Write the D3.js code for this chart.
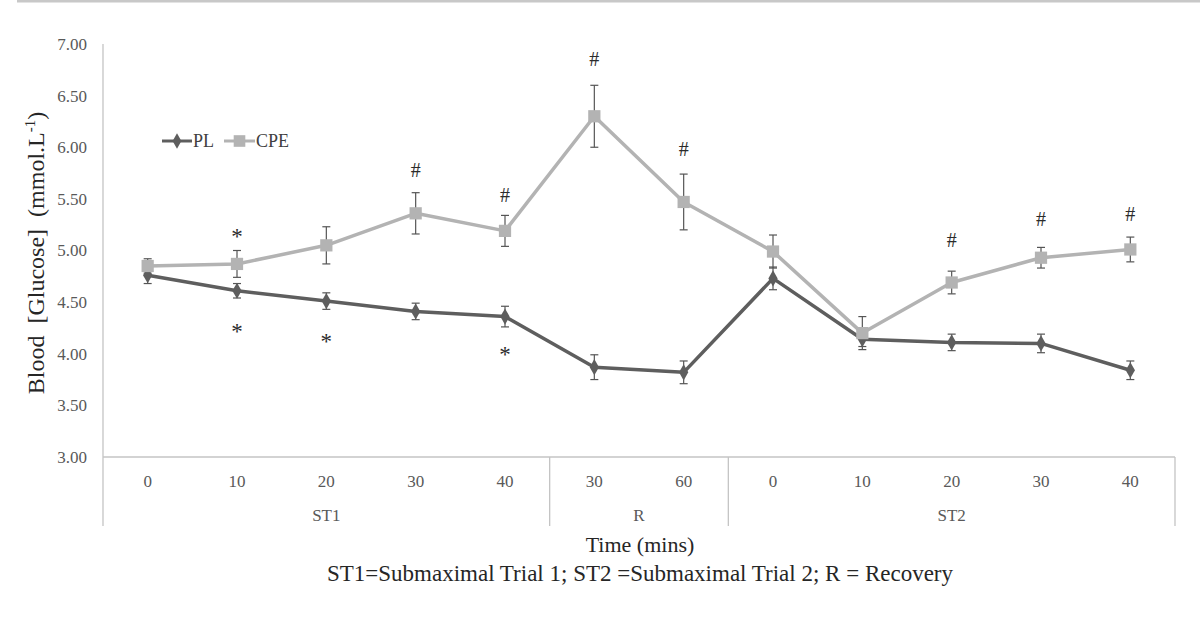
<!DOCTYPE html>
<html>
<head>
<meta charset="utf-8">
<script src="https://cdn.jsdelivr.net/npm/d3@7"></script>
<style>
  html, body { margin: 0; padding: 0; background: #fff; }
  svg { display: block; font-family: "Liberation Serif", "Times New Roman", serif; }
</style>
</head>
<body>
<svg id="chart" width="1200" height="623"></svg>
<script>
// time points along the x axis, and the phase each one belongs to
const timeLabels = ["0", "10", "20", "30", "40", "30", "60", "0", "10", "20", "30", "40"];
const phaseOf = ["ST1", "ST1", "ST1", "ST1", "ST1", "R", "R", "ST2", "ST2", "ST2", "ST2", "ST2"];
const phaseNames = ["ST1", "R", "ST2"];

// blood glucose means and error (mmol.L-1)
const plValues = [4.76, 4.61, 4.51, 4.41, 4.36, 3.87, 3.82, 4.73, 4.14, 4.11, 4.10, 3.84];
const plErr = [0.08, 0.07, 0.08, 0.08, 0.10, 0.12, 0.11, 0.11, 0.07, 0.08, 0.09, 0.09];
const cpeValues = [4.85, 4.87, 5.05, 5.36, 5.19, 6.30, 5.47, 4.99, 4.20, 4.69, 4.93, 5.01];
const cpeErr = [0.07, 0.13, 0.18, 0.20, 0.15, 0.30, 0.27, 0.16, 0.16, 0.11, 0.10, 0.12];

// significance marks: index, symbol, level (mmol.L-1)
const markIdx = [1, 1, 2, 4, 3, 4, 5, 6, 9, 10, 11];
const markSym = ["*", "*", "*", "*", "#", "#", "#", "#", "#", "#", "#"];
const markLevel = [5.19, 4.27, 4.17, 4.04, 5.78, 5.54, 6.85, 5.98, 5.10, 5.30, 5.35];

const yTicks = [3, 3.5, 4, 4.5, 5, 5.5, 6, 6.5, 7];

const svg = d3.select("#chart");

const mLeft = 103, mRight = 1175, mTop = 44, mBottom = 457;

const x = d3.scaleBand()
  .domain(d3.range(timeLabels.length))
  .range([mLeft, mRight]);

const y = d3.scaleLinear()
  .domain([3, 7])
  .range([mBottom, mTop]);

const cx = i => x(i) + x.bandwidth() / 2;

const plColor = "#5e5e5e";
const cpeColor = "#b3b3b3";
const axisColor = "#c4c4c4";

// top border of the figure
svg.append("line")
  .attr("x1", 17).attr("x2", 1200)
  .attr("y1", 1).attr("y2", 1)
  .attr("stroke", "#c8c8c8").attr("stroke-width", 3);

// y axis
const yAxis = svg.append("g")
  .attr("transform", `translate(${mLeft},0)`)
  .call(d3.axisLeft(y).tickValues(yTicks).tickSize(0).tickPadding(16).tickFormat(d3.format(".2f")));
yAxis.select(".domain").remove();
yAxis.selectAll("text")
  .attr("font-size", 17)
  .attr("fill", "#595959")
  .attr("font-family", "Liberation Serif, serif");

svg.append("line")
  .attr("x1", mLeft).attr("x2", mLeft)
  .attr("y1", mTop).attr("y2", 526)
  .attr("stroke", axisColor).attr("stroke-width", 1.3);

// x axis line
svg.append("line")
  .attr("x1", mLeft).attr("x2", mRight)
  .attr("y1", mBottom).attr("y2", mBottom)
  .attr("stroke", axisColor).attr("stroke-width", 1.3);

// time labels
svg.append("g").selectAll("text")
  .data(timeLabels)
  .join("text")
  .attr("x", (d, i) => cx(i))
  .attr("y", 487)
  .attr("text-anchor", "middle")
  .attr("font-size", 17)
  .attr("fill", "#595959")
  .text(d => d);

// phase boxes
const phases = phaseNames.map(p => {
  const idx = d3.range(phaseOf.length).filter(i => phaseOf[i] === p);
  return { name: p, x0: x(idx[0]), x1: x(idx[idx.length - 1]) + x.bandwidth() };
});

svg.append("g").selectAll("line")
  .data(phases)
  .join("line")
  .attr("x1", d => d.x1).attr("x2", d => d.x1)
  .attr("y1", mBottom).attr("y2", 526)
  .attr("stroke", axisColor).attr("stroke-width", 1.3);

svg.append("g").selectAll("text")
  .data(phases)
  .join("text")
  .attr("x", d => (d.x0 + d.x1) / 2)
  .attr("y", 521)
  .attr("text-anchor", "middle")
  .attr("font-size", 17)
  .attr("fill", "#595959")
  .text(d => d.name);

// axis titles
svg.append("text")
  .attr("x", 640).attr("y", 552)
  .attr("text-anchor", "middle")
  .attr("font-size", 22)
  .attr("fill", "#262626")
  .text("Time (mins)");

svg.append("text")
  .attr("x", 640).attr("y", 581)
  .attr("text-anchor", "middle")
  .attr("font-size", 23)
  .attr("fill", "#262626")
  .text("ST1=Submaximal Trial 1; ST2 =Submaximal Trial 2; R = Recovery");

const yTitle = svg.append("text")
  .attr("transform", "translate(44,253) rotate(-90)")
  .attr("text-anchor", "middle")
  .attr("font-size", 24)
  .attr("fill", "#262626");
yTitle.append("tspan").text("Blood\u00a0 [Glucose]\u00a0 (mmol.L");
yTitle.append("tspan").attr("font-size", 15).attr("dy", -9).text("-1");
yTitle.append("tspan").attr("dy", 9).text(")");

// series
const series = [
  { name: "PL", values: plValues, err: plErr, color: plColor, shape: d3.symbolDiamond, size: 75 },
  { name: "CPE", values: cpeValues, err: cpeErr, color: cpeColor, shape: d3.symbolSquare, size: 150 }
];

const line = d3.line()
  .x((d, i) => cx(i))
  .y(d => y(d));

series.forEach(s => {
  // error bars
  const eb = svg.append("g");
  eb.selectAll("line.stem")
    .data(s.values)
    .join("line")
    .attr("class", "stem")
    .attr("x1", (d, i) => cx(i)).attr("x2", (d, i) => cx(i))
    .attr("y1", (d, i) => y(d - s.err[i]))
    .attr("y2", (d, i) => y(d + s.err[i]))
    .attr("stroke", "#555").attr("stroke-width", 1.2);
  [1, -1].forEach(sign => {
    eb.selectAll("line.cap" + (sign > 0 ? "up" : "dn"))
      .data(s.values)
      .join("line")
      .attr("class", "cap" + (sign > 0 ? "up" : "dn"))
      .attr("x1", (d, i) => cx(i) - 4).attr("x2", (d, i) => cx(i) + 4)
      .attr("y1", (d, i) => y(d + sign * s.err[i]))
      .attr("y2", (d, i) => y(d + sign * s.err[i]))
      .attr("stroke", "#555").attr("stroke-width", 1.2);
  });
});

series.forEach(s => {
  svg.append("path")
    .datum(s.values)
    .attr("d", line)
    .attr("fill", "none")
    .attr("stroke", s.color)
    .attr("stroke-width", 3.5)
    .attr("stroke-linejoin", "round");

  svg.append("g").selectAll("path")
    .data(s.values)
    .join("path")
    .attr("transform", (d, i) => `translate(${cx(i)},${y(d)})`)
    .attr("d", d3.symbol(s.shape, s.size))
    .attr("fill", s.color);
});

// significance marks
svg.append("g").selectAll("text")
  .data(markIdx)
  .join("text")
  .attr("x", d => cx(d))
  .attr("y", (d, i) => y(markLevel[i]))
  .attr("dy", (d, i) => markSym[i] === "*" ? "0.55em" : "0.34em")
  .attr("text-anchor", "middle")
  .attr("font-size", (d, i) => markSym[i] === "*" ? 23 : 20)
  .attr("fill", "#2b2b2b")
  .text((d, i) => markSym[i]);

// legend
const legend = svg.append("g").attr("transform", "translate(0,141)");
const legendItems = [
  { s: series[0], x0: 162, x1: 192 },
  { s: series[1], x0: 224, x1: 255 }
];
legendItems.forEach(it => {
  legend.append("line")
    .attr("x1", it.x0).attr("x2", it.x1)
    .attr("stroke", it.s.color).attr("stroke-width", 3);
  legend.append("path")
    .attr("transform", `translate(${(it.x0 + it.x1) / 2},0)`)
    .attr("d", d3.symbol(it.s.shape, it.s.size * 0.9))
    .attr("fill", it.s.color);
  legend.append("text")
    .attr("x", it.x1 + 1).attr("y", 6)
    .attr("font-size", 18)
    .attr("fill", "#404040")
    .text(it.s.name);
});
</script>
</body>
</html>
